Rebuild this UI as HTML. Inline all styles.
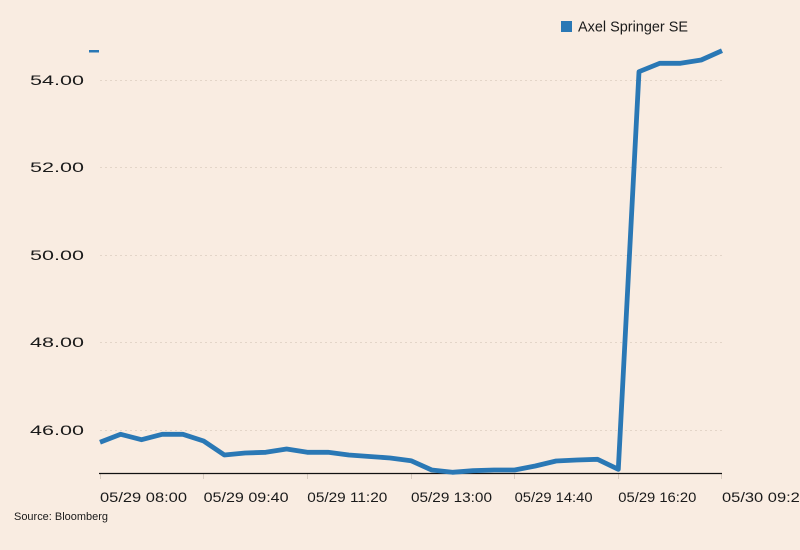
<!DOCTYPE html>
<html><head><meta charset="utf-8"><style>
html,body{margin:0;padding:0;background:#f9ece1;}
svg{display:block;}
text{font-family:"Liberation Sans",sans-serif;fill:#1a1a1a;}
</style></head><body>
<svg width="800" height="550" viewBox="0 0 800 550" xmlns="http://www.w3.org/2000/svg">
<rect width="800" height="550" fill="#f9ece1"/>
<rect x="89" y="50" width="10" height="2.5" fill="#2a78b5"/>
<g stroke="#e3d5c8" stroke-width="1" stroke-dasharray="2,3">
<line x1="100" y1="80.5" x2="722" y2="80.5"/>
<line x1="100" y1="167.5" x2="722" y2="167.5"/>
<line x1="100" y1="255.5" x2="722" y2="255.5"/>
<line x1="100" y1="342.5" x2="722" y2="342.5"/>
<line x1="100" y1="430.5" x2="722" y2="430.5"/>
</g>
<g font-size="13.5">
<text x="30" y="85" textLength="54" lengthAdjust="spacingAndGlyphs">54.00</text>
<text x="30" y="172" textLength="54" lengthAdjust="spacingAndGlyphs">52.00</text>
<text x="30" y="260" textLength="54" lengthAdjust="spacingAndGlyphs">50.00</text>
<text x="30" y="347" textLength="54" lengthAdjust="spacingAndGlyphs">48.00</text>
<text x="30" y="435" textLength="54" lengthAdjust="spacingAndGlyphs">46.00</text>
</g>
<g stroke="#d9ccc0" stroke-width="1">
<line x1="100.5" y1="473" x2="100.5" y2="479"/>
<line x1="203.5" y1="473" x2="203.5" y2="479"/>
<line x1="307.5" y1="473" x2="307.5" y2="479"/>
<line x1="411.5" y1="473" x2="411.5" y2="479"/>
<line x1="514.5" y1="473" x2="514.5" y2="479"/>
<line x1="618.5" y1="473" x2="618.5" y2="479"/>
<line x1="721.5" y1="473" x2="721.5" y2="479"/>
</g>
<line x1="99" y1="473.5" x2="722" y2="473.5" stroke="#111" stroke-width="1.2"/>
<g font-size="13.5">
<text x="100" y="502" textLength="87" lengthAdjust="spacingAndGlyphs">05/29 08:00</text>
<text x="203.6" y="502" textLength="85" lengthAdjust="spacingAndGlyphs">05/29 09:40</text>
<text x="307.3" y="502" textLength="80" lengthAdjust="spacingAndGlyphs">05/29 11:20</text>
<text x="411" y="502" textLength="81" lengthAdjust="spacingAndGlyphs">05/29 13:00</text>
<text x="514.6" y="502" textLength="78" lengthAdjust="spacingAndGlyphs">05/29 14:40</text>
<text x="618.3" y="502" textLength="78" lengthAdjust="spacingAndGlyphs">05/29 16:20</text>
<text x="722" y="502" textLength="87" lengthAdjust="spacingAndGlyphs">05/30 09:20</text>
</g>
<text x="14" y="520" font-size="11" textLength="94" lengthAdjust="spacingAndGlyphs">Source: Bloomberg</text>
<rect x="561" y="21" width="11" height="11" fill="#2a78b5"/>
<text x="578" y="31.5" font-size="15" textLength="110" lengthAdjust="spacingAndGlyphs">Axel Springer SE</text>
<polyline fill="none" stroke="#2a78b5" stroke-width="4.8" stroke-linejoin="round" stroke-linecap="butt"
points="100,442.3 120.7,434.3 141.5,439.7 162.2,434.3 182.9,434.3 203.6,441 224.4,455 245.1,453 265.8,452.3 286.6,449 307.3,452.3 328,452.3 348.8,455 369.5,456.5 390.2,458 411,460.7 431.7,470 452.4,472.3 473.1,470.7 493.9,470 514.6,470 535.3,466 556.1,461 576.8,460 597.5,459.3 618.3,469.3 639,71.7 659.7,63.3 680.5,63.3 701.2,60 722,50.7"/>
</svg>
</body></html>
